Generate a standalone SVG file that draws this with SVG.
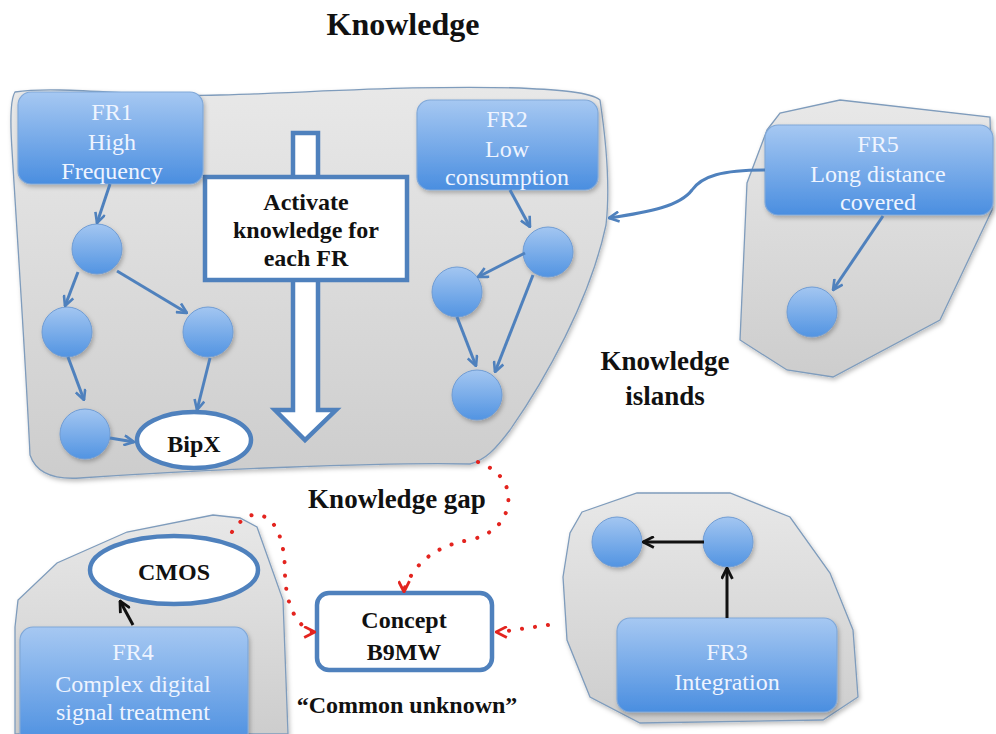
<svg xmlns="http://www.w3.org/2000/svg" width="996" height="734" viewBox="0 0 996 734" font-family="Liberation Serif, DejaVu Serif, serif">
<style>
.island{fill:url(#gray);stroke:#7f9cbc;stroke-width:1.3}
.fr{fill:url(#blue);stroke:#80a8d8;stroke-width:1.2}
.frt{font-size:24px;fill:#eef4ff;text-anchor:middle}
.bt{font-weight:bold;fill:#111;text-anchor:middle}
.kn{fill:url(#circ);stroke:#6f9cd4;stroke-width:1}
.bl{fill:none;stroke:#4f81bd;stroke-width:3}
.blk{fill:none;stroke:#111;stroke-width:3}
.red{fill:none;stroke:#e3241f;stroke-width:4;stroke-linecap:round;stroke-dasharray:0.1 13}
.wb{fill:#fff;stroke:#4f81bd;stroke-width:4.5}
</style>
<defs>
<linearGradient id="gray" x1="0" y1="0" x2="0" y2="1"><stop offset="0" stop-color="#e8e8e8"/><stop offset="1" stop-color="#cdcdcd"/></linearGradient>
<linearGradient id="blue" x1="0" y1="0" x2="0" y2="1"><stop offset="0" stop-color="#a6c8f2"/><stop offset="1" stop-color="#4a8ee0"/></linearGradient>
<linearGradient id="circ" x1="0" y1="0" x2="0" y2="1"><stop offset="0" stop-color="#a3c6f1"/><stop offset="1" stop-color="#5294e2"/></linearGradient>
<filter id="sh" x="-10%" y="-10%" width="125%" height="125%"><feDropShadow dx="1.5" dy="2.5" stdDeviation="2" flood-color="#000" flood-opacity="0.25"/></filter>
<marker id="ab" viewBox="0 0 12 12" refX="11" refY="6" markerWidth="12" markerHeight="12" markerUnits="userSpaceOnUse" orient="auto"><path d="M1,1 L11,6 L1,11" fill="none" stroke="#4f81bd" stroke-width="2.6"/></marker>
<marker id="ak" viewBox="0 0 12 12" refX="11" refY="6" markerWidth="13" markerHeight="13" markerUnits="userSpaceOnUse" orient="auto"><path d="M1,1 L11,6 L1,11" fill="none" stroke="#111" stroke-width="2.6"/></marker>
<marker id="ar" viewBox="0 0 12 12" refX="11" refY="6" markerWidth="13" markerHeight="13" markerUnits="userSpaceOnUse" orient="auto"><path d="M1,1 L11,6 L1,11" fill="none" stroke="#e3241f" stroke-width="2.6"/></marker>
</defs>
<rect width="996" height="734" fill="#fff"/>
<text class="bt" x="403" y="35" font-size="32">Knowledge</text>

<g id="island1">
<path class="island" filter="url(#sh)" d="M15 92 C60 85 150 98 220 95 C320 92 420 85 520 88 C560 90 590 92 600 100 C606 140 610 190 606 225 C590 300 545 380 510 430 C495 450 485 460 470 464 C380 462 200 470 80 478 C50 480 35 470 30 455 C25 350 18 250 12 150 C10 120 10 100 15 92 Z"/>
</g>
<g id="island5"><polygon class="island" filter="url(#sh)" points="767,130 780,113 840,100 990,117 992,210 940,320 833,377 787,370 740,340 747,183"/></g>
<g id="island4"><polygon class="island" filter="url(#sh)" points="15,627 18,600 57,563 127,532 213,515 240,518 257,527 283,600 288,734 15,734"/></g>
<g id="island3"><polygon class="island" filter="url(#sh)" points="582,512 637,493 730,493 790,517 830,573 853,630 858,697 823,720 640,723 590,697 567,640 563,577 570,533"/></g>

<g id="activate-arrow"><polygon class="wb" stroke-width="4" points="293,133 318,133 318,410 336,410 305,440 275,410 293,410"/></g>
<g id="activate"><rect class="wb" x="205" y="177" width="202" height="103"/>
<text class="bt" font-size="24" x="306" y="210">Activate</text>
<text class="bt" font-size="24" x="306" y="238">knowledge for</text>
<text class="bt" font-size="24" x="306" y="266">each FR</text></g>

<g id="fr1"><rect class="fr" filter="url(#sh)" x="18" y="92" width="185" height="92" rx="13"/>
<text class="frt" x="112" y="120">FR1</text><text class="frt" x="112" y="150">High</text><text class="frt" x="112" y="179">Frequency</text></g>
<g id="fr2"><rect class="fr" filter="url(#sh)" x="417" y="100" width="181" height="90" rx="13"/>
<text class="frt" x="507" y="127">FR2</text><text class="frt" x="507" y="157">Low</text><text class="frt" x="507" y="185">consumption</text></g>
<g id="fr5"><rect class="fr" filter="url(#sh)" x="765" y="125" width="228" height="90" rx="13"/>
<text class="frt" x="878" y="152">FR5</text><text class="frt" x="878" y="182">Long distance</text><text class="frt" x="878" y="210">covered</text></g>
<g id="fr4"><rect class="fr" filter="url(#sh)" x="20" y="627" width="228" height="120" rx="13"/>
<text class="frt" x="133" y="660">FR4</text><text class="frt" x="133" y="692">Complex digital</text><text class="frt" x="133" y="720">signal treatment</text></g>
<g id="fr3"><rect class="fr" filter="url(#sh)" x="617" y="618" width="220" height="94" rx="13"/>
<text class="frt" x="727" y="660">FR3</text><text class="frt" x="727" y="690">Integration</text></g>

<g id="k1a"><circle class="kn" filter="url(#sh)" cx="97" cy="249" r="25"/></g>
<g id="k1b"><circle class="kn" filter="url(#sh)" cx="67" cy="332" r="25"/></g>
<g id="k1c"><circle class="kn" filter="url(#sh)" cx="208" cy="332" r="25"/></g>
<g id="k1d"><circle class="kn" filter="url(#sh)" cx="85" cy="434" r="25"/></g>
<g id="bipx"><ellipse class="wb" cx="194" cy="440" rx="57" ry="28"/><text class="bt" font-size="24" x="194" y="452">BipX</text></g>
<g id="k2a"><circle class="kn" filter="url(#sh)" cx="548" cy="252" r="25"/></g>
<g id="k2b"><circle class="kn" filter="url(#sh)" cx="457" cy="292" r="25"/></g>
<g id="k2c"><circle class="kn" filter="url(#sh)" cx="477" cy="395" r="25"/></g>
<g id="k5a"><circle class="kn" filter="url(#sh)" cx="812" cy="312" r="25"/></g>
<g id="cmos"><ellipse class="wb" cx="174" cy="570" rx="84" ry="34"/><text class="bt" font-size="24" x="174" y="580">CMOS</text></g>
<g id="k3a"><circle class="kn" filter="url(#sh)" cx="617" cy="542" r="25"/></g>
<g id="k3b"><circle class="kn" filter="url(#sh)" cx="728" cy="542" r="25"/></g>
<g id="concept"><rect class="wb" x="317" y="593" width="175" height="77" rx="12"/>
<text class="bt" font-size="24" x="404" y="628">Concept</text><text class="bt" font-size="24" x="404" y="660">B9MW</text></g>

<g id="labels">
<text class="bt" font-size="27" x="665" y="370">Knowledge</text>
<text class="bt" font-size="27" x="665" y="405">islands</text>
<text class="bt" font-size="27" x="397" y="508">Knowledge gap</text>
<text class="bt" font-size="24" x="407" y="713">“Common unknown”</text>
</g>

<g id="connectors">
<path class="bl" marker-end="url(#ab)" d="M110 184 L97 223"/>
<path class="bl" marker-end="url(#ab)" d="M78 272 L65 306"/>
<path class="bl" marker-end="url(#ab)" d="M117 271 L187 313"/>
<path class="bl" marker-end="url(#ab)" d="M68 357 L84 400"/>
<path class="bl" marker-end="url(#ab)" d="M210 358 L197 410"/>
<path class="bl" marker-end="url(#ab)" d="M110 438 L134 442"/>
<path class="bl" marker-end="url(#ab)" d="M510 190 L530 227"/>
<path class="bl" marker-end="url(#ab)" d="M525 253 L478 277"/>
<path class="bl" marker-end="url(#ab)" d="M457 317 L476 366"/>
<path class="bl" marker-end="url(#ab)" d="M533 275 L495 372"/>
<path class="bl" marker-end="url(#ab)" d="M883 216 L833 290"/>
<path class="bl" marker-end="url(#ab)" d="M765 170 C722 170 702 176 692 190 C680 206 650 212 609 218"/>
<path class="blk" marker-end="url(#ak)" d="M133 625 L120 601"/>
<path class="blk" marker-end="url(#ak)" d="M704 542 L643 542"/>
<path class="blk" marker-end="url(#ak)" d="M727 618 L727 568"/>
<path class="red" d="M478 462 Q512 475 508 505 Q503 532 470 540 Q420 548 404 590"/>
<path fill="none" stroke="none" marker-end="url(#ar)" d="M404 580 L404 592"/>
<path class="red" d="M232 532 Q250 505 270 520 Q285 535 285 575 Q287 620 312 632"/>
<path fill="none" stroke="none" marker-end="url(#ar)" d="M305 632 L315 632"/>
<path class="red" d="M548 625 L500 632"/>
<path fill="none" stroke="none" marker-end="url(#ar)" d="M506 632 L496 632"/>
</g>
</svg>
